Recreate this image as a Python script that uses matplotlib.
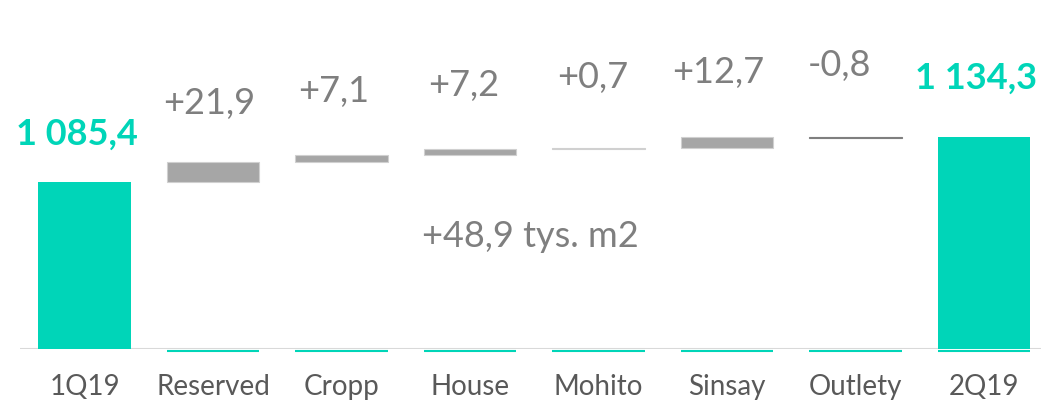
import numpy as np
import matplotlib
matplotlib.use("Agg")
import matplotlib.pyplot as plt

plt.rcParams["font.family"] = ["Lato", "DejaVu Sans"]

# dane (tys. m2)
categories = ["1Q19", "Reserved", "Cropp", "House", "Mohito", "Sinsay", "Outlety", "2Q19"]
start_value = 1085.4
changes = [21.9, 7.1, 7.2, 0.7, 12.7, -0.8]
end_value = 1134.3
total_label = "+48,9 tys. m2"

TEAL = "#00D5B8"
GRAY = "#A6A6A6"
NEG = "#7F7F7F"
TXT = "#7F7F7F"
TICK = "#595959"
Y0 = 900.0

# przesuniecia etykiet (px): (dx, dy nad gora slupka)
label_off = [(-8, 37), (-4, 48), (-8, 53), (-6, 53), (-6, 60), (-9, 54), (-16, 61), (-8, 49)]


def fmt_total(v):
    s = f"{v:,.1f}".replace(",", " ").replace(".", ",")
    return s


def fmt_change(v):
    return f"{v:+.1f}".replace(".", ",")


fig = plt.figure(figsize=(10.41, 4.01), dpi=100)
ax = fig.add_axes([0, 52 / 401, 1, 349 / 401])

x = np.arange(len(categories))
w = 0.716

cum = start_value + np.concatenate([[0], np.cumsum(changes)])
bottoms, heights, colors, tops = [], [], [], []
bottoms.append(Y0); heights.append(start_value - Y0); colors.append(TEAL); tops.append(start_value)
for i, c in enumerate(changes):
    lo, hi = sorted([cum[i], cum[i + 1]])
    bottoms.append(lo); heights.append(hi - lo)
    colors.append(GRAY if c >= 0 else NEG)
    tops.append(hi)
bottoms.append(Y0); heights.append(end_value - Y0); colors.append(TEAL); tops.append(end_value)

edges = ["none"] + ["#D0D0D0" if c >= 0 else NEG for c in changes] + ["none"]
ax.bar(x, heights, bottom=bottoms, width=w, color=colors, edgecolor=edges, linewidth=0.8, zorder=3)

# linia osi i turkusowe podstawy
ax.hlines(Y0, -0.5, 7.5, color="#D9D9D9", lw=1.5, zorder=2)
ax.hlines(np.full(len(x) - 1, Y0 - 2.2), x[1:] - w / 2, x[1:] + w / 2, color=TEAL, lw=1.5,
          clip_on=False, zorder=2)

labels = [fmt_total(start_value)] + [fmt_change(c) for c in changes] + [fmt_total(end_value)]
for i, (lab, top) in enumerate(zip(labels, tops)):
    dx, dy = label_off[i]
    teal = i in (0, len(labels) - 1)
    ax.annotate(lab, (x[i], top), xytext=(dx, dy), textcoords="offset pixels",
                ha="center", va="baseline", fontsize=26,
                color=TEAL if teal else TXT, fontweight="bold" if teal else "normal")

ax.text(530 / 1041, (349 - 247) / 349, total_label, transform=ax.transAxes,
        ha="center", va="baseline", fontsize=26, color=TXT)

ax.set_xlim(-84.5 / 128.5, (1041 - 84.5) / 128.5)
ax.set_ylim(Y0, Y0 + 349 / 0.903)
ax.set_xticks(x, categories)
ax.tick_params(axis="x", length=0, pad=18, labelsize=20, labelcolor=TICK)
ax.set_yticks([])
for s in ax.spines.values():
    s.set_visible(False)

fig.savefig("out.png", dpi=100)
